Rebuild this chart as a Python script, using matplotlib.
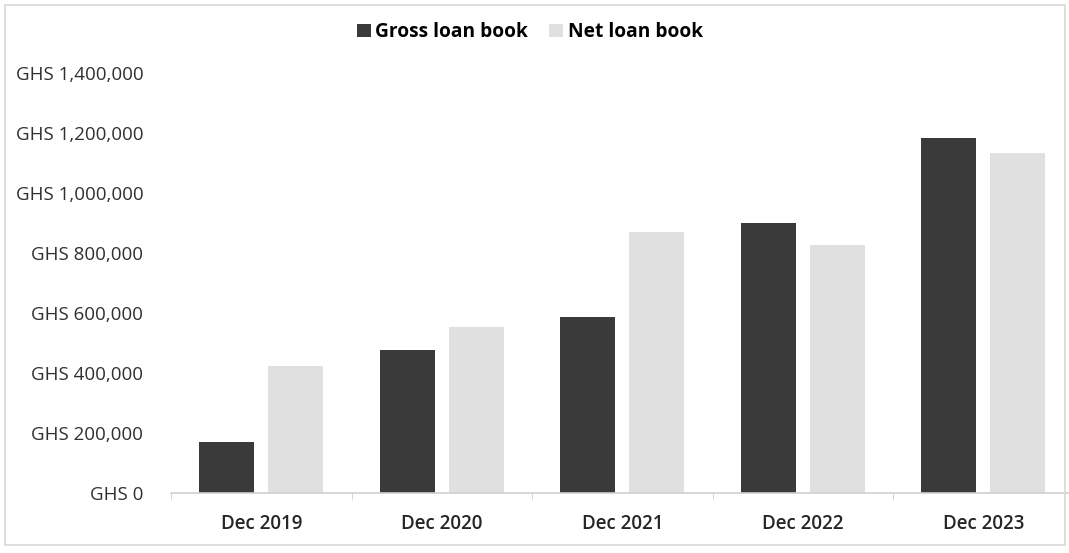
import numpy as np
import matplotlib
matplotlib.use("Agg")
import matplotlib.pyplot as plt
from matplotlib.ticker import FuncFormatter, FixedLocator
from matplotlib.patches import Rectangle

categories = ["Dec 2019", "Dec 2020", "Dec 2021", "Dec 2022", "Dec 2023"]
gross_loan_book = [171000, 477000, 588000, 901000, 1182000]
net_loan_book = [424000, 555000, 871000, 827000, 1134000]

plt.rcParams['font.family'] = ['Open Sans', 'DejaVu Sans']

fig = plt.figure(figsize=(10.69, 5.53), dpi=100)
ax = fig.add_axes([171 / 1069, 60 / 553, 898 / 1069, 420 / 553])

x = np.arange(len(categories))
w = 0.305
ax.bar(x - 0.19, gross_loan_book, width=w, color='#3a3a3a', label='Gross loan book')
ax.bar(x + 0.19, net_loan_book, width=w, color='#e0e0e0', label='Net loan book')

ax.set_xlim(-0.5, 4.475)
ax.set_ylim(0, 1400000)
ax.set_yticks(np.arange(0, 1400001, 200000))
ax.yaxis.set_major_formatter(FuncFormatter(lambda v, p: f"GHS {int(v):,}"))
ax.set_xticks(x)
ax.set_xticklabels(categories, fontsize=13.5, fontweight='semibold', color='#262626')
ax.xaxis.set_minor_locator(FixedLocator(np.arange(-0.5, 4.6, 1.0)))
ax.tick_params(axis='x', which='major', length=0, pad=15)
ax.tick_params(axis='x', which='minor', length=5, color='#d0d0d0')
ax.tick_params(axis='y', length=0, pad=20, labelsize=13.5, labelcolor='#303030')

for s in ['top', 'right', 'left']:
    ax.spines[s].set_visible(False)
ax.spines['bottom'].set_color('#d0d0d0')
ax.spines['bottom'].set_linewidth(1.2)

fig.legend(loc='center', bbox_to_anchor=(530 / 1069, 1 - 32 / 553), ncol=2, frameon=False,
           handlelength=0.7, handleheight=0.7, handletextpad=0.25, columnspacing=1.1,
           prop={'size': 13.8, 'weight': 'bold'})

fig.patches.append(Rectangle((5 / 1069, 8 / 553), 1060 / 1069, 540 / 553, transform=fig.transFigure,
                             fill=False, edgecolor='#d8d8d8', linewidth=1.2))

fig.savefig("out.png", dpi=100)
